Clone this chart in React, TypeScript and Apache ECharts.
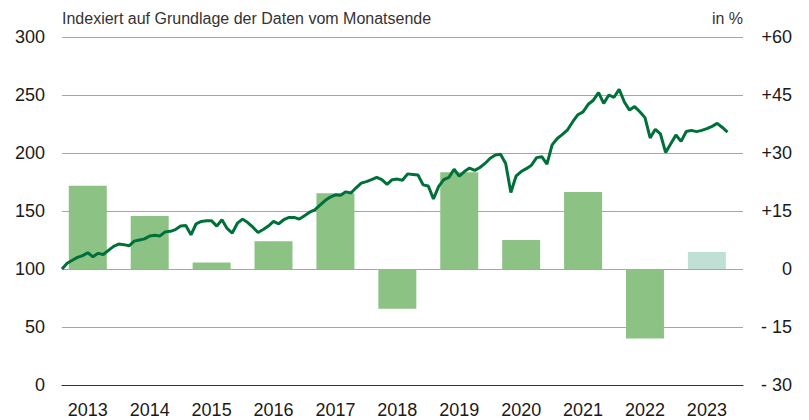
import React, { useEffect, useRef } from "react";
import * as echarts from "echarts";

const years = ["2013", "2014", "2015", "2016", "2017", "2018", "2019", "2020", "2021", "2022", "2023"];
const annualChange = [21.5, 13.7, 1.7, 7.2, 19.6, -10.3, 25.0, 7.5, 19.9, -18.0, 4.4];
const leftTicks = [0, 50, 100, 150, 200, 250, 300];
const rightTicks = [-30, -15, 0, 15, 30, 45, 60];
// monthly index, month 0 = Dec 2012
const indexValues = [
  100, 105, 107.5, 110, 111.5, 114, 110.5, 113.5, 112.5, 116, 119.5, 121.5,
  121, 120, 124, 125, 126, 128.5, 129, 128.5, 132, 132.5, 134, 137,
  137.5, 129.5, 139, 141, 141.5, 141.5, 137, 142.5, 135, 131, 139.5, 143,
  140, 136, 131.5, 134, 137, 141, 139, 142.5, 144.5, 144.5, 143, 146,
  149, 151, 155, 159, 162, 164, 163.5, 166.5, 165.5, 170, 174, 175.3,
  177, 179, 177, 173, 177, 177.5, 176.5, 182, 181.5, 181, 172.5, 171.5,
  160.5, 171, 177, 179, 186, 180, 184, 187, 185, 187.5, 191, 195.5,
  198.3, 199, 191, 166, 180, 184, 186.5, 189.5, 196, 196.8, 190.5, 207,
  212.5, 216, 220, 227, 233, 235.5, 242, 245.5, 252, 242.8, 250, 248,
  255, 244, 237, 240, 235.6, 230.5, 213, 220.4, 216.4, 200.5, 208, 215.5,
  210, 218.5, 219.5, 218.4, 219.5, 221, 223, 225.5, 222, 218,
];
const totalMonths = 133;
const barOffset = 5;

export default function App() {
  const ref = useRef<HTMLDivElement>(null);
  useEffect(() => {
    document.body.style.margin = "0";
    if (!ref.current) return;
    const chart = echarts.init(ref.current, undefined, { renderer: "svg" });
    const cats: string[] = [];
    for (let i = 0; i < totalMonths; i++) cats.push("m" + i);
    const barData: any[] = cats.map(() => "-");
    annualChange.forEach((v, k) => {
      barData[barOffset + 12 * k] = {
        value: v,
        itemStyle: { color: k === years.length - 1 ? "#c0e0d5" : "#8cc384" },
      };
    });
    const font = "Liberation Sans, Arial, sans-serif";
    chart.setOption({
      animation: false,
      grid: { left: 62, right: 66, top: 37, bottom: 35, containLabel: false },
      xAxis: {
        type: "category",
        data: cats,
        boundaryGap: false,
        axisTick: { show: false },
        axisLine: { show: true, lineStyle: { color: "#333", width: 1 } },
        splitLine: { show: false },
        axisLabel: {
          interval: (idx: number) => idx % 12 === barOffset,
          formatter: (_v: string, idx: number) => years[(idx - barOffset) / 12] ?? "",
          color: "#1a1a1a",
          fontSize: 18,
          fontFamily: font,
          margin: 16,
        },
      },
      yAxis: [
        {
          type: "value",
          min: leftTicks[0],
          max: leftTicks[leftTicks.length - 1],
          interval: 50,
          axisLine: { show: false },
          axisTick: { show: false },
          splitLine: { show: true, lineStyle: { color: "#a6a6a6", width: 1 } },
          axisLabel: { color: "#1a1a1a", fontSize: 18, fontFamily: font, margin: 17 },
        },
        {
          type: "value",
          min: rightTicks[0],
          max: rightTicks[rightTicks.length - 1],
          interval: 15,
          position: "right",
          axisLine: { show: false },
          axisTick: { show: false },
          splitLine: { show: false },
          axisLabel: {
            color: "#1a1a1a",
            fontSize: 18,
            fontFamily: font,
            align: "right",
            margin: 49,
            formatter: (v: number) => (v > 0 ? "+" + v : v < 0 ? "- " + Math.abs(v) : "0"),
          },
        },
      ],
      graphic: [
        {
          type: "text",
          left: 62,
          top: 10,
          style: { text: "Indexiert auf Grundlage der Daten vom Monatsende", fill: "#333", fontSize: 16, fontFamily: font },
        },
        {
          type: "text",
          right: 66,
          top: 10,
          style: { text: "in %", fill: "#333", fontSize: 16, fontFamily: font },
        },
      ],
      series: [
        {
          type: "bar",
          yAxisIndex: 1,
          data: barData,
          barWidth: 38,
          z: 1,
        },
        {
          type: "line",
          yAxisIndex: 0,
          data: indexValues,
          symbol: "none",
          lineStyle: { color: "#00703a", width: 3 },
          z: 3,
        },
      ],
    });
    return () => chart.dispose();
  }, []);
  return <div ref={ref} style={{ width: 809, height: 420 }} />;
}
